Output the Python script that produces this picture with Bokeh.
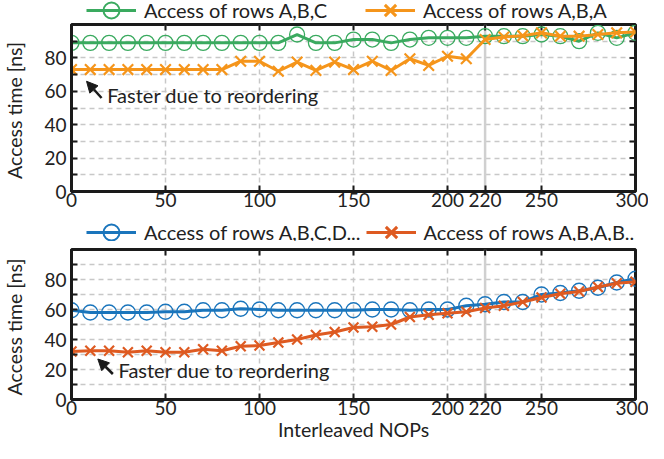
import math
from bokeh.plotting import figure
from bokeh.models import (Legend, LegendItem, Span, Label, Arrow, NormalHead,
                          FixedTicker, Range1d)
from bokeh.layouts import column
from bokeh.embed import file_html
from bokeh.resources import INLINE

nops = list(range(0, 301, 10))
abc = [89, 89, 89, 89, 89, 89, 89, 89, 89, 89, 89, 89, 94, 89, 89, 91,
       91, 89, 91, 92, 92, 92, 93, 93, 93, 94, 93, 90, 95, 92, 95]
aba = [73, 73, 73, 73, 73, 73, 73, 73, 73, 78, 78, 72, 77.5, 72.5, 77.5, 73,
       78, 72.5, 79.5, 75.5, 81, 79.5, 91, 92.5, 93.3, 95, 93, 93, 94, 95, 95.5]
abcd = [59.5, 58, 58, 58, 58, 58.5, 58.5, 59.5, 59.5, 60.5, 60, 59.5, 59.5, 59.5,
        59.5, 59.5, 60, 60, 59.5, 60, 60, 62.5, 63.5, 65, 65, 70, 71, 72.5, 74.5, 78, 80.5]
abab = [32, 32.5, 32.5, 31.5, 32.5, 31.5, 31.5, 33.5, 32.5, 35.5, 36, 38, 40, 43,
        45, 48, 48.5, 50, 55, 56.5, 57.5, 58.5, 61, 62.5, 65, 68, 70.5, 72, 75, 77.5, 78.5]
x_ticks = [0, 50, 100, 150, 200, 220, 250, 300]
y_ticks = list(range(0, 100, 10))
y_labels = {v: (str(v) if v % 20 == 0 and v <= 80 else "") for v in y_ticks}
X_MAX = 300
Y_MAX = 100

FONT = "Lato"
TXT = "#222222"
TICK_FS = "19px"
LAB_FS = "19.5px"
LEG_FS = "20px"
INK = "#1a1a1a"
C_ABC, C_ABA = "#3aaa5f", "#f5951b"
C_ABCD, C_ABAB = "#1a75bc", "#de5a21"
NAN = float("nan")


def make_fig(height, btop, bbottom, xlabel):
    p = figure(width=648, height=height, output_backend="svg", toolbar_location=None,
               x_range=Range1d(0, X_MAX), y_range=Range1d(0, Y_MAX),
               min_border_left=66, min_border_right=13,
               min_border_top=btop, min_border_bottom=bbottom)
    p.background_fill_color = "white"
    p.border_fill_color = "white"
    p.outline_line_color = INK
    p.outline_line_width = 3
    for ax in (p.xaxis[0], p.yaxis[0]):
        ax.axis_line_width = 3
        ax.axis_line_color = INK
        ax.major_tick_in = 6
        ax.major_tick_out = 0
        ax.major_tick_line_width = 2
        ax.major_tick_line_color = INK
        ax.minor_tick_line_color = None
        ax.major_label_text_font = FONT
        ax.major_label_text_font_size = TICK_FS
        ax.major_label_text_color = TXT
        ax.axis_label_text_font = FONT
        ax.axis_label_text_font_size = LAB_FS
        ax.axis_label_text_color = TXT
        ax.axis_label_text_font_style = "normal"
    p.xaxis.ticker = FixedTicker(ticks=x_ticks)
    p.yaxis.ticker = FixedTicker(ticks=y_ticks)
    p.yaxis.major_label_overrides = y_labels
    p.xaxis.major_label_standoff = 1
    p.yaxis.major_label_standoff = 5
    p.yaxis.axis_label = "Access time  [ns]"
    p.yaxis.axis_label_standoff = 15
    if xlabel:
        p.xaxis.axis_label = xlabel
        p.xaxis.axis_label_standoff = 0
    # mirrored inward ticks on the top and right edges (outer half clipped by the frame)
    p.scatter(x=x_ticks, y=[Y_MAX] * len(x_ticks), marker="dash", angle=math.pi / 2,
              size=12, line_color=INK, line_width=2)
    p.scatter(x=[X_MAX] * len(y_ticks), y=y_ticks, marker="dash",
              size=12, line_color=INK, line_width=2)
    p.xgrid.ticker = FixedTicker(ticks=[50, 100, 150, 200, 250])
    p.ygrid.ticker = FixedTicker(ticks=list(range(10, 100, 10)))
    for g in (p.xgrid[0], p.ygrid[0]):
        g.grid_line_color = "#c8c8c8"
        g.grid_line_width = 1.5
        g.grid_line_dash = "5 4"
    p.add_layout(Span(location=220, dimension="height", line_color="#d0d0d0",
                      line_width=2.5, level="underlay"))
    return p


def add_series(p, y1, c1, y2, c2, xsize):
    p.line(nops, y1, line_color=c1, line_width=3)
    p.scatter(nops, y1, marker="circle", size=15, fill_color=None,
              line_color=c1, line_width=1.3)
    p.line(nops, y2, line_color=c2, line_width=3)
    p.scatter(nops, y2, marker="x", size=xsize, line_color=c2, line_width=2.2)


def legend_fig(height, c1, l1, c2, l2, spacing, vy):
    lf = figure(width=648, height=height, output_backend="svg", toolbar_location=None,
                x_range=Range1d(0, 1), y_range=Range1d(0, 1),
                x_axis_location=None, y_axis_location=None,
                min_border_left=0, min_border_right=0,
                min_border_top=0, min_border_bottom=0)
    lf.grid.visible = False
    lf.outline_line_color = None
    lf.background_fill_color = "white"
    lf.border_fill_color = "white"
    a1 = lf.line(x=[NAN], y=[NAN], line_color=c1, line_width=3)
    b1 = lf.scatter(x=[NAN], y=[NAN], marker="circle", fill_color=None,
                    line_color=c1, line_width=2)
    a2 = lf.line(x=[NAN], y=[NAN], line_color=c2, line_width=3)
    b2 = lf.scatter(x=[NAN], y=[NAN], marker="x", line_color=c2, line_width=3)
    lg = Legend(items=[LegendItem(label=l1, renderers=[a1, b1]),
                       LegendItem(label=l2, renderers=[a2, b2])],
                location=(15, vy), orientation="horizontal",
                glyph_width=50, glyph_height=40, label_height=40,
                label_standoff=8, spacing=spacing,
                padding=0, margin=0, border_line_color=None,
                background_fill_alpha=0,
                label_text_font=FONT, label_text_font_size=LEG_FS,
                label_text_color=TXT)
    lf.add_layout(lg)
    return lf


def add_note(p, tip, tail, txt_xy):
    p.add_layout(Arrow(end=NormalHead(size=11, fill_color=INK, line_color=INK),
                       x_start=tail[0], y_start=tail[1], x_end=tip[0], y_end=tip[1],
                       line_width=2.5, line_color=INK))
    p.add_layout(Label(x=txt_xy[0], y=txt_xy[1], text="Faster due to reordering",
                       text_font=FONT, text_font_size=LEG_FS, text_color=TXT,
                       text_baseline="middle"))


leg1 = legend_fig(22, C_ABC, "Access of rows A,B,C", C_ABA, "Access of rows A,B,A", 38, -8)
p1 = make_fig(195, 2, 26, None)
add_series(p1, abc, C_ABC, aba, C_ABA, 15)
add_note(p1, (8, 66), (16, 56), (19, 58))

leg2 = legend_fig(24, C_ABCD, "Access of rows A,B,C,D...", C_ABAB,
                  "Access of rows A,B,A,B...", 5, -11)
p2 = make_fig(202, 8, 36, "Interleaved NOPs")
add_series(p2, abcd, C_ABCD, abab, C_ABAB, 14)
add_note(p2, (14, 27), (22, 17), (25, 20))

layout = column(leg1, p1, leg2, p2)
open("out.html", "w").write(file_html(layout, INLINE))
